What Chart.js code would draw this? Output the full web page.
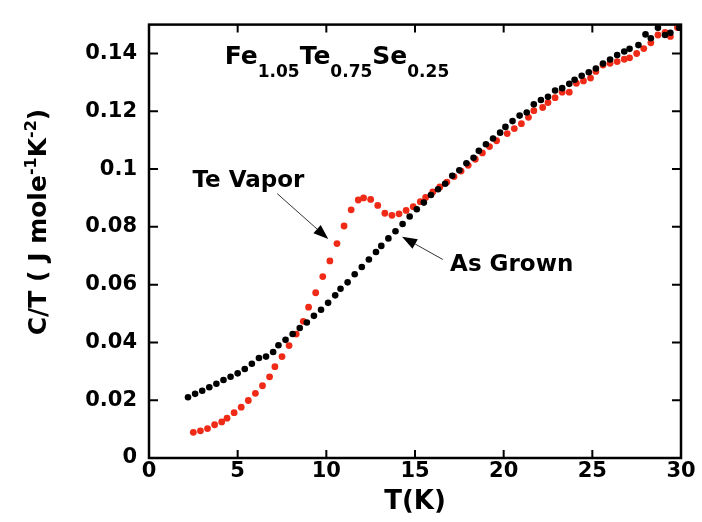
<!DOCTYPE html>
<html>
<head>
<meta charset="utf-8">
<script src="https://cdn.jsdelivr.net/npm/chart.js@4.4.1/dist/chart.umd.min.js"></script>
<style>
  html, body { margin: 0; padding: 0; background: #fff; }
  #cp { display: block; }
</style>
</head>
<body>
<canvas id="cp" width="702" height="522"></canvas>
<script>
// As grown crystal: C/T (J mole^-1 K^-2) against T (K)
const tAsGrown = [2.2, 2.6, 3.0, 3.4, 3.8, 4.2, 4.6, 5.0, 5.4, 5.8,
    6.2, 6.6, 7.0, 7.3, 7.7, 8.1, 8.5, 8.9, 9.3, 9.7,
    10.1, 10.5, 10.8, 11.2, 11.6, 12.0, 12.4, 12.8, 13.1, 13.5,
    13.9, 14.3, 14.7, 15.1, 15.5, 15.9, 16.3, 16.7, 17.1, 17.5,
    17.9, 18.3, 18.6, 19.0, 19.4, 19.8, 20.1, 20.5, 20.9, 21.3,
    21.7, 22.1, 22.5, 22.9, 23.3, 23.7, 24.0, 24.4, 24.8, 25.2,
    25.6, 26.0, 26.4, 26.8, 27.1, 27.6, 28.0, 28.3, 28.7, 29.1,
    29.4, 29.9];
const cAsGrown = [0.0210, 0.0222, 0.0233, 0.0245, 0.0257, 0.0270, 0.0281, 0.0293, 0.0308, 0.0326,
    0.0346, 0.0351, 0.0367, 0.0390, 0.0409, 0.0429, 0.0450, 0.0469, 0.0492, 0.0513,
    0.0537, 0.0563, 0.0586, 0.0608, 0.0636, 0.0661, 0.0687, 0.0713, 0.0734, 0.0760,
    0.0785, 0.0810, 0.0836, 0.0861, 0.0884, 0.0910, 0.0930, 0.0949, 0.0977, 0.0996,
    0.1020, 0.1039, 0.1063, 0.1086, 0.1106, 0.1126, 0.1146, 0.1166, 0.1185, 0.1196,
    0.1224, 0.1239, 0.1250, 0.1272, 0.1280, 0.1295, 0.1309, 0.1323, 0.1335, 0.1348,
    0.1365, 0.1379, 0.1395, 0.1407, 0.1416, 0.1429, 0.1466, 0.1453, 0.1489, 0.1464,
    0.1472, 0.1489];

// after the Te vapor anneal
const tTeVapor = [2.5, 2.9, 3.3, 3.7, 4.1, 4.4, 4.8, 5.2, 5.6, 6.0,
    6.4, 6.8, 7.1, 7.5, 7.9, 8.3, 8.7, 9.0, 9.4, 9.8,
    10.2, 10.6, 11.0, 11.4, 11.8, 12.1, 12.5, 12.9, 13.3, 13.7,
    14.1, 14.5, 14.9, 15.3, 15.6, 16.0, 16.4, 16.8, 17.2, 17.6,
    18.0, 18.4, 18.8, 19.2, 19.6, 20.2, 20.6, 21.0, 21.4, 21.7,
    22.2, 22.5, 22.9, 23.3, 23.7, 24.1, 24.5, 24.9, 25.2, 25.6,
    26.0, 26.4, 26.8, 27.1, 27.5, 27.9, 28.3, 28.7, 29.1, 29.4,
    29.8];
const cTeVapor = [0.0089, 0.0094, 0.0102, 0.0115, 0.0125, 0.0138, 0.0157, 0.0176, 0.0199, 0.0224,
    0.0250, 0.0281, 0.0316, 0.0351, 0.0389, 0.0429, 0.0473, 0.0522, 0.0572, 0.0628,
    0.0682, 0.0742, 0.0803, 0.0859, 0.0893, 0.0900, 0.0895, 0.0874, 0.0847, 0.0840,
    0.0845, 0.0857, 0.0870, 0.0887, 0.0902, 0.0921, 0.0938, 0.0955, 0.0974, 0.0993,
    0.1013, 0.1034, 0.1056, 0.1078, 0.1098, 0.1123, 0.1140, 0.1157, 0.1179, 0.1202,
    0.1213, 0.1230, 0.1247, 0.1266, 0.1266, 0.1297, 0.1305, 0.1315, 0.1338, 0.1360,
    0.1366, 0.1372, 0.1380, 0.1385, 0.1400, 0.1417, 0.1437, 0.1464, 0.1473, 0.1459,
    0.1490];

const xTickVals = [0, 5, 10, 15, 20, 25, 30];
const yTickVals = [0, 0.02, 0.04, 0.06, 0.08, 0.1, 0.12, 0.14];

const FONT = 'DejaVu Sans';
const toPoints = (xs, ys) => xs.map((x, i) => ({x: x, y: ys[i]}));

// draw a run of text pieces, each with its own size and vertical shift
function drawRich(ctx, x, y, parts) {
    parts.forEach(p => {
        ctx.font = 'bold ' + p.size + 'px "' + FONT + '"';
        ctx.fillText(p.text, x, y + (p.dy || 0));
        x += ctx.measureText(p.text).width;
    });
    return x;
}
function richWidth(ctx, parts) {
    let w = 0;
    parts.forEach(p => {
        ctx.font = 'bold ' + p.size + 'px "' + FONT + '"';
        w += ctx.measureText(p.text).width;
    });
    return w;
}

function arrow(ctx, x0, y0, x1, y1) {
    const ang = Math.atan2(y1 - y0, x1 - x0);
    const len = 15, half = 5.5;
    const bx = x1 - len * Math.cos(ang), by = y1 - len * Math.sin(ang);
    ctx.strokeStyle = '#333';
    ctx.lineWidth = 1;
    ctx.beginPath();
    ctx.moveTo(x0, y0);
    ctx.lineTo(bx, by);
    ctx.stroke();
    ctx.fillStyle = '#000';
    ctx.beginPath();
    ctx.moveTo(x1, y1);
    ctx.lineTo(bx + half * Math.sin(ang), by - half * Math.cos(ang));
    ctx.lineTo(bx - half * Math.sin(ang), by + half * Math.cos(ang));
    ctx.closePath();
    ctx.fill();
}

// box around the plot with ticks pointing inward on every side
const framePlugin = {
    id: 'frame',
    afterDatasetsDraw(chart) {
        const {ctx, chartArea: a, scales: {x, y}} = chart;
        ctx.save();
        ctx.strokeStyle = '#000';
        ctx.lineWidth = 2;
        ctx.beginPath();
        x.ticks.forEach(t => {
            const px = x.getPixelForValue(t.value);
            ctx.moveTo(px, a.bottom); ctx.lineTo(px, a.bottom - 8);
            ctx.moveTo(px, a.top); ctx.lineTo(px, a.top + 8);
        });
        y.ticks.forEach(t => {
            const py = y.getPixelForValue(t.value);
            ctx.moveTo(a.left, py); ctx.lineTo(a.left + 9, py);
            ctx.moveTo(a.right, py); ctx.lineTo(a.right - 9, py);
        });
        ctx.stroke();
        ctx.lineWidth = 2.5;
        ctx.strokeRect(a.left, a.top, a.right - a.left, a.bottom - a.top);
        ctx.restore();
    }
};

// formula, sample labels with arrows, and the y axis title
const notesPlugin = {
    id: 'notes',
    afterDraw(chart) {
        const {ctx, scales: {x, y}} = chart;
        const X = v => x.getPixelForValue(v);
        const Y = v => y.getPixelForValue(v);
        ctx.save();
        ctx.fillStyle = '#000';
        ctx.textBaseline = 'alphabetic';
        ctx.textAlign = 'left';

        drawRich(ctx, X(4.27), Y(0.1365), [
            {text: 'Fe', size: 25}, {text: '1.05', size: 17, dy: 13},
            {text: 'Te', size: 25}, {text: '0.75', size: 17, dy: 13},
            {text: 'Se', size: 25}, {text: '0.25', size: 17, dy: 13}
        ]);

        drawRich(ctx, X(2.45), Y(0.0938), [{text: 'Te Vapor', size: 23}]);
        arrow(ctx, X(7.23), Y(0.0915), X(10.11), Y(0.0758));

        ctx.fillStyle = '#000';
        drawRich(ctx, X(16.98), Y(0.0648), [{text: 'As Grown', size: 23}]);
        arrow(ctx, X(16.57), Y(0.0687), X(14.27), Y(0.0766));

        const title = [
            {text: 'C/T ( J mole', size: 25}, {text: '-1', size: 16, dy: -10},
            {text: 'K', size: 25}, {text: '-2', size: 16, dy: -10},
            {text: ')', size: 25}
        ];
        ctx.fillStyle = '#000';
        ctx.translate(46, 222);
        ctx.rotate(-Math.PI / 2);
        drawRich(ctx, -richWidth(ctx, title) / 2, 0, title);
        ctx.restore();
    }
};

const tickFont = {family: FONT, weight: 'bold', size: 21};

new Chart(document.getElementById('cp'), {
    type: 'scatter',
    data: {
        datasets: [{
            label: 'As Grown',
            data: toPoints(tAsGrown, cAsGrown),
            backgroundColor: '#000',
            borderWidth: 0,
            pointRadius: 3.3
        }, {
            label: 'Te Vapor',
            data: toPoints(tTeVapor, cTeVapor),
            backgroundColor: '#ef2b17',
            borderWidth: 0,
            pointRadius: 3.4
        }]
    },
    options: {
        responsive: false,
        animation: false,
        layout: { padding: { top: 13, right: 21, left: 0, bottom: 0 } },
        plugins: {
            legend: { display: false },
            tooltip: { enabled: false }
        },
        scales: {
            x: {
                type: 'linear',
                min: 0,
                max: 30,
                afterBuildTicks: s => { s.ticks = xTickVals.map(v => ({value: v})); },
                afterFit: s => { s.height = 64; },
                grid: { display: false, drawTicks: false },
                border: { display: false },
                ticks: { font: tickFont, color: '#000', padding: 1, maxRotation: 0 },
                title: {
                    display: true,
                    text: 'T(K)',
                    color: '#000',
                    font: {family: FONT, weight: 'bold', size: 26},
                    padding: { top: 0, bottom: 4 }
                }
            },
            y: {
                type: 'linear',
                min: 0,
                max: 0.15,
                afterBuildTicks: s => { s.ticks = yTickVals.map(v => ({value: v})); },
                afterFit: s => { s.width = 149; },
                grid: { display: false, drawTicks: false },
                border: { display: false },
                ticks: {
                    font: tickFont,
                    color: '#000',
                    padding: 12,
                    callback: v => String(+v.toFixed(2))
                }
            }
        }
    },
    plugins: [framePlugin, notesPlugin]
});
</script>
</body>
</html>
